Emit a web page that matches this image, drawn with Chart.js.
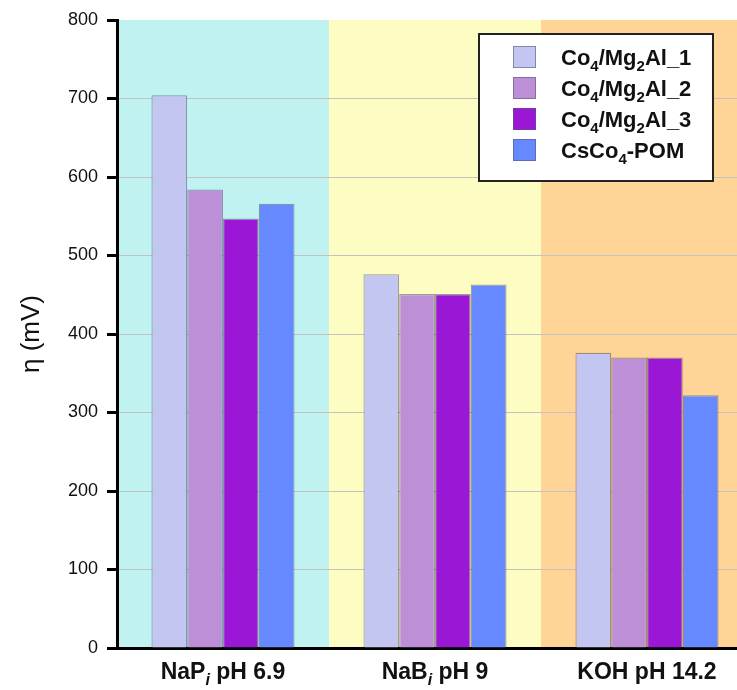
<!DOCTYPE html>
<html>
<head>
<meta charset="utf-8">
<script src="https://cdn.jsdelivr.net/npm/chart.js@4.4.1/dist/chart.umd.min.js"></script>
<style>
  html, body { margin: 0; padding: 0; background: #fff; overflow: hidden; }
  #wrap { position: relative; width: 753px; height: 690px; }
</style>
</head>
<body>
<div id="wrap"><canvas id="Chart" width="753" height="690"></canvas></div>
<script>
// electrolytes on the x axis (subscript chars are drawn as real subscripts)
var categories = ['NaPᵢ pH 6.9', 'NaBᵢ pH 9', 'KOH pH 14.2'];
var seriesNames = ['Co₄/Mg₂Al_1', 'Co₄/Mg₂Al_2', 'Co₄/Mg₂Al_3', 'CsCo₄-POM'];

// overpotential, mV
var co4mg2al1 = [704, 476, 376];
var co4mg2al2 = [584, 451, 370];
var co4mg2al3 = [547, 451, 370];
var csco4pom  = [566, 463, 322];

var yTicks = [0, 100, 200, 300, 400, 500, 600, 700, 800];

var barColors = ['#c4c6f2', '#bd8fd6', '#9a17d6', '#6689ff'];
var zoneColors = ['#c0f2f2', '#fdfdc3', '#fed497'];

function splitRich(text) {
  var subs = '₀₁₂₃₄₅₆₇₈₉';
  var segs = [];
  for (var ch of text) {
    var k = subs.indexOf(ch);
    var seg;
    if (k >= 0) seg = { t: String(k), sub: true, it: false };
    else if (ch === 'ᵢ') seg = { t: 'i', sub: true, it: true };
    else seg = { t: ch, sub: false, it: false };
    var last = segs[segs.length - 1];
    if (last && last.sub === seg.sub && last.it === seg.it) last.t += seg.t;
    else segs.push(seg);
  }
  return segs;
}

function drawRich(ctx, text, x, y, size, align) {
  var segs = splitRich(text);
  var fontFor = function (s) {
    return (s.it ? 'italic ' : '') + 'bold ' + (s.sub ? Math.round(size * 0.7) : size) + 'px "Liberation Sans", Arial, sans-serif';
  };
  var w = 0;
  segs.forEach(function (s) { ctx.font = fontFor(s); s.w = ctx.measureText(s.t).width; w += s.w; });
  var cx = align === 'center' ? x - w / 2 : x;
  ctx.textAlign = 'left';
  ctx.textBaseline = 'alphabetic';
  ctx.fillStyle = '#111';
  segs.forEach(function (s) {
    ctx.font = fontFor(s);
    ctx.fillText(s.t, cx, y + (s.sub ? size * 0.26 : 0));
    cx += s.w;
  });
}

var zonePlugin = {
  id: 'zones',
  beforeDraw: function (chart) {
    var ctx = chart.ctx, a = chart.chartArea, x = chart.scales.x;
    var half = (x.getPixelForValue(1) - x.getPixelForValue(0)) / 2;
    ctx.save();
    categories.forEach(function (c, i) {
      var cx = x.getPixelForValue(i);
      ctx.fillStyle = zoneColors[i];
      ctx.fillRect(cx - half, a.top, half * 2, a.bottom - a.top);
    });
    ctx.restore();
  }
};

var labelPlugin = {
  id: 'catLabels',
  afterDraw: function (chart) {
    var ctx = chart.ctx, a = chart.chartArea, x = chart.scales.x;
    ctx.save();
    categories.forEach(function (c, i) {
      drawRich(ctx, c, x.getPixelForValue(i), a.bottom + 31, 23, 'center');
    });
    ctx.restore();
  }
};

var legendPlugin = {
  id: 'boxLegend',
  afterDraw: function (chart) {
    var ctx = chart.ctx, a = chart.chartArea;
    var bx = a.right - 274, by = a.top + 14, bw = 234, bh = 147;
    ctx.save();
    ctx.fillStyle = '#fff';
    ctx.fillRect(bx, by, bw, bh);
    ctx.strokeStyle = '#222';
    ctx.lineWidth = 2;
    ctx.strokeRect(bx, by, bw, bh);
    chart.data.datasets.forEach(function (ds, i) {
      var ry = by + 12 + i * 31;
      ctx.fillStyle = ds.backgroundColor;
      ctx.fillRect(bx + 34, ry, 23, 22);
      ctx.strokeStyle = 'rgba(90,90,120,0.6)';
      ctx.lineWidth = 1;
      ctx.strokeRect(bx + 34.5, ry + 0.5, 22, 21);
      drawRich(ctx, ds.label, bx + 82, ry + 19, 22, 'left');
    });
    ctx.restore();
  }
};

var seriesData = [co4mg2al1, co4mg2al2, co4mg2al3, csco4pom];

var ctx = document.getElementById('Chart').getContext('2d');
var myChart = new Chart(ctx, {
  type: 'bar',
  data: {
    labels: categories,
    datasets: seriesData.map(function (d, i) {
      return {
        label: seriesNames[i],
        data: d,
        backgroundColor: barColors[i],
        borderColor: 'rgba(80,80,110,0.55)',
        borderWidth: 1.2,
        categoryPercentage: 0.675,
        barPercentage: 1
      };
    })
  },
  options: {
    responsive: false,
    devicePixelRatio: 1,
    animation: false,
    layout: { padding: { top: 20, right: 0, left: 0, bottom: 0 } },
    plugins: {
      legend: { display: false },
      tooltip: { enabled: false }
    },
    scales: {
      x: {
        grid: { display: false },
        border: { color: '#000', width: 3 },
        ticks: { display: false },
        afterFit: function (s) { s.height = 42; }
      },
      y: {
        min: 0,
        max: 800,
        afterBuildTicks: function (s) { s.ticks = yTicks.map(function (v) { return { value: v }; }); },
        ticks: {
          color: '#111',
          padding: 9,
          font: { family: '"Liberation Sans", Arial, sans-serif', size: 18 }
        },
        grid: {
          color: function (c) { return (c.tick && (c.tick.value === 800 || c.tick.value === 0)) ? 'rgba(0,0,0,0)' : '#c2c2c2'; },
          lineWidth: 1,
          tickColor: '#000',
          tickWidth: 3,
          tickLength: 10
        },
        border: { color: '#000', width: 3 },
        title: {
          display: true,
          text: 'η (mV)',
          color: '#111',
          padding: { top: 16, bottom: 0 },
          font: { family: '"Liberation Sans", Arial, sans-serif', size: 26 }
        },
        afterFit: function (s) { s.width = 117; }
      }
    }
  },
  plugins: [zonePlugin, labelPlugin, legendPlugin]
});
</script>
</body>
</html>
